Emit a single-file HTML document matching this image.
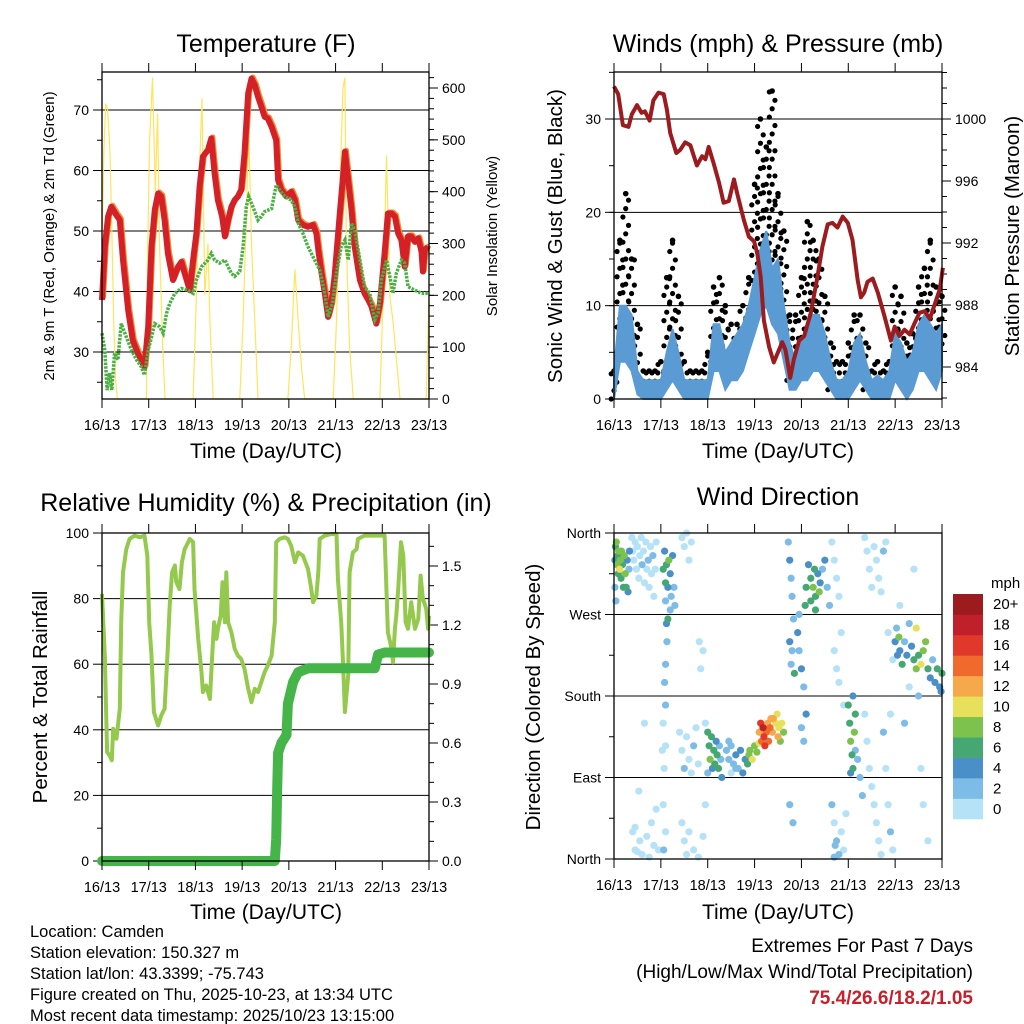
<!DOCTYPE html>
<html><head><meta charset="utf-8"><style>
body{margin:0;background:#fff;}
svg{display:block;font-family:"Liberation Sans",sans-serif;}
</style></head><body>
<svg id="c" width="1024" height="1024" viewBox="0 0 1024 1024" xmlns="http://www.w3.org/2000/svg">
<g id="texts" fill="#000">
<text x="266" y="52" font-size="25" text-anchor="middle">Temperature (F)</text>
<text x="778" y="52" font-size="25" text-anchor="middle">Winds (mph) &amp; Pressure (mb)</text>
<text x="266" y="511" font-size="25" text-anchor="middle">Relative Humidity (%) &amp; Precipitation (in)</text>
<text x="778" y="505" font-size="25" text-anchor="middle">Wind Direction</text>
<text x="266" y="458" font-size="21" text-anchor="middle">Time (Day/UTC)</text>
<text x="778" y="458" font-size="21" text-anchor="middle">Time (Day/UTC)</text>
<text x="266" y="919" font-size="21" text-anchor="middle">Time (Day/UTC)</text>
<text x="778" y="919" font-size="21" text-anchor="middle">Time (Day/UTC)</text>
<text transform="translate(54,236) rotate(-90)" font-size="15" text-anchor="middle">2m &amp; 9m T (Red, Orange) &amp; 2m Td (Green)</text>
<text transform="translate(497,236) rotate(-90)" font-size="15" text-anchor="middle">Solar Insolation (Yellow)</text>
<text transform="translate(562,236) rotate(-90)" font-size="20.5" text-anchor="middle">Sonic Wind &amp; Gust (Blue, Black)</text>
<text transform="translate(1019,236) rotate(-90)" font-size="20.5" text-anchor="middle">Station Pressure (Maroon)</text>
<text transform="translate(47,697) rotate(-90)" font-size="20.5" text-anchor="middle">Percent &amp; Total Rainfall</text>
<text transform="translate(540,697) rotate(-90)" font-size="20.5" text-anchor="middle">Direction (Colored By Speed)</text>
<g font-size="16.5">
<text x="30" y="937">Location: Camden</text>
<text x="30" y="958">Station elevation: 150.327 m</text>
<text x="30" y="979">Station lat/lon: 43.3399; -75.743</text>
<text x="30" y="1000">Figure created on Thu, 2025-10-23, at 13:34 UTC</text>
<text x="30" y="1021">Most recent data timestamp: 2025/10/23 13:15:00</text>
</g>
<text x="973" y="952" font-size="19" text-anchor="end">Extremes For Past 7 Days</text>
<text x="973" y="978" font-size="19" text-anchor="end">(High/Low/Max Wind/Total Precipitation)</text>
<text x="973" y="1004" font-size="19" font-weight="bold" fill="#c8202a" text-anchor="end">75.4/26.6/18.2/1.05</text>
</g>
</svg>
<script>
// ---------- data ----------
const dayLabels=["16/13","17/13","18/13","19/13","20/13","21/13","22/13","23/13"];
const tempDays=[0,.06,.13,.2,.31,.38,.45,.56,.66,.77,.91,.99,1.06,1.13,1.2,1.27,1.34,1.41,1.52,1.63,1.7,1.77,1.88,1.95,2.02,2.09,2.16,2.27,2.34,2.41,2.48,2.57,2.63,2.7,2.77,2.84,2.91,2.98,3.05,3.13,3.2,3.27,3.34,3.41,3.48,3.55,3.63,3.73,3.77,3.84,3.95,4.05,4.13,4.2,4.3,4.41,4.52,4.59,4.63,4.7,4.77,4.84,4.91,4.98,5.09,5.16,5.2,5.27,5.34,5.41,5.52,5.62,5.7,5.77,5.87,5.95,6.05,6.12,6.2,6.27,6.34,6.41,6.48,6.55,6.62,6.7,6.77,6.84,6.87,6.91,6.98];
const tempF=[38.6,47.4,52.4,54.0,52.6,51.8,45.2,36.9,31.9,29.7,27.5,34.2,47.4,53.5,56.2,55.7,51.8,46.3,41.9,44.1,44.9,43.0,40.2,45.2,49.6,57.3,62.3,63.4,65.3,59.5,55.1,52.4,49.1,51.8,54.0,55.1,55.7,56.8,62.8,72.8,75.2,74.1,72.2,70.6,68.9,68.6,67.2,65.0,58.4,56.8,55.7,56.5,55.1,51.8,51.0,50.7,51.0,49.6,46.9,43.0,39.7,35.8,38.0,42.5,52.9,59.0,63.1,58.4,53.5,47.4,41.9,39.7,38.6,37.5,34.7,38.0,46.3,52.9,52.9,52.4,49.6,48.5,44.1,49.1,49.1,48.2,48.8,46.6,43.3,46.9,47.4];
const dewDays=[0,.06,.11,.16,.21,.27,.34,.41,.52,.63,.74,.84,.91,.99,1.06,1.13,1.23,1.31,1.38,1.45,1.56,1.7,1.84,1.95,2.02,2.13,2.27,2.34,2.41,2.52,2.63,2.7,2.77,2.84,2.95,3.02,3.09,3.14,3.23,3.34,3.41,3.48,3.63,3.73,3.8,3.91,4.05,4.13,4.2,4.3,4.41,4.55,4.66,4.77,4.84,4.93,5.02,5.12,5.2,5.27,5.34,5.41,5.52,5.62,5.73,5.84,5.91,5.98,6.09,6.16,6.23,6.3,6.41,6.48,6.55,6.7,6.84,6.98];
const dewF=[33.1,30.3,23.7,26.5,23.7,29.8,28.7,34.7,32.5,30.3,28.7,27.6,26.2,30.3,32.5,34.7,34.2,33.1,36.4,38.0,39.7,40.5,40.2,39.7,41.9,44.1,45.2,46.3,45.2,44.7,45.2,44.1,43.0,42.5,43.3,47.4,54.0,55.7,54.0,51.8,52.4,53.2,53.7,57.6,56.8,55.7,55.1,54.0,51.3,49.6,47.4,45.2,43.6,39.7,35.8,38.0,43.0,47.4,48.5,45.2,51.3,50.2,45.2,40.8,39.7,35.3,36.4,41.9,45.2,42.5,39.7,43.0,45.2,44.7,40.8,40.2,39.7,39.7];
const solarDays=[0,.04,.08,.12,.17,.21,.25,.29,.33,.95,.98,1.02,1.08,1.14,1.19,1.23,1.3,1.35,1.41,1.95,2.02,2.09,2.14,2.2,2.27,2.31,2.38,2.95,3.02,3.09,3.14,3.2,3.27,3.34,3.98,4.05,4.13,4.2,4.27,4.34,4.95,5.02,5.09,5.16,5.2,5.23,5.3,5.38,5.95,6.02,6.09,6.16,6.23,6.3,6.38,6.94,7.0];
const solarW=[300,480,570,560,480,330,150,40,0,0,300,500,620,400,550,300,100,0,0,0,200,450,580,200,300,150,0,0,150,350,520,300,150,0,0,100,250,150,60,0,0,150,400,600,620,300,100,0,0,200,470,200,150,80,0,0,200];
const presDays=[0,.09,.19,.31,.38,.49,.59,.66,.76,.84,.95,1.06,1.13,1.2,1.33,1.41,1.52,1.63,1.77,1.88,1.95,2.02,2.13,2.24,2.34,2.45,2.56,2.63,2.77,2.88,2.99,3.06,3.13,3.2,3.31,3.41,3.59,3.66,3.76,3.84,3.95,4.06,4.2,4.34,4.45,4.56,4.66,4.77,4.88,4.99,5.09,5.2,5.27,5.34,5.41,5.52,5.63,5.77,5.91,5.99,6.09,6.2,6.31,6.41,6.52,6.63,6.74,6.84,6.95,7.02];
const presMb=[1002.1,1001.6,999.6,999.5,1000.3,1000.9,1000.4,1000.5,999.9,1001.2,1001.7,1001.6,1000.6,999.1,997.8,998.0,998.5,998.3,997.0,997.6,997.4,998.2,997.1,995.9,994.6,994.7,996.1,995.2,993.5,992.4,992.1,991.3,989.8,987.0,985.3,984.3,985.6,985.1,983.3,984.5,985.7,986.0,987.5,989.8,991.8,993.2,993.3,993.0,993.7,993.3,992.2,989.6,988.5,988.8,989.5,989.7,988.8,987.3,985.7,986.6,986.0,986.4,986.1,986.8,987.5,987.6,987.1,988.0,989.0,990.4];
const windHi=[3,10,10,9,3,2,2,2,2,5,7.5,5,2,2,2,2,2,8,8,5,6,7,8,10,13,16,18,14,15,10,6,4,6,8,9,9,7,4,2,2,3,6,7,4,2,2.5,2,3,7,6,4,5,8,9,8,7,8];
const windLo=[0,4,4,3,.5,0,0,0,0,1,2,1,0,0,0,0,0,3,3,1,2,2,3,5,7,9,10,8,7,4,1,1,2,2,3,3,2,1,0,0,0,1,2,1,0,0,0,0,2,1,0,1,3,3,2,1,3];
const gustHi=[3,17,22,15,8,3,3,3,4,13,17,11,4,3,3,3,5,12,13,10,8,8,10,13,23,30,27,33,22,18,9,9,13,19,17,15,11,6,4,4,6,9,9,6,3,4,3,4,12,11,6,7,12,14,17,12,11];
const gustLo=[0,5,6,5,3,1,1,1,1,3,5,3,1,1,1,1,1,4,5,3,2,3,4,6,10,13,14,14,10,7,2,2,3,6,6,4,3,1,1,1,1,2,3,1,1,1,1,1,3,2,1,2,4,5,5,4,5];
const rhDays=[0,.06,.11,.16,.21,.24,.31,.38,.41,.45,.52,.59,.70,.81,.91,.97,1.01,1.06,1.11,1.2,1.27,1.34,1.4,1.45,1.5,1.56,1.59,1.66,1.71,1.77,1.88,1.95,1.98,2.06,2.13,2.16,2.23,2.31,2.36,2.4,2.45,2.48,2.54,2.58,2.63,2.66,2.7,2.77,2.84,2.91,2.98,3.05,3.13,3.2,3.27,3.34,3.41,3.48,3.55,3.63,3.7,3.73,3.8,3.91,3.98,4.05,4.13,4.2,4.3,4.41,4.48,4.52,4.59,4.63,4.66,4.77,4.91,5.02,5.05,5.12,5.16,5.2,5.27,5.3,5.37,5.45,5.48,5.62,5.91,6.05,6.12,6.2,6.23,6.27,6.3,6.34,6.4,6.45,6.5,6.55,6.62,6.7,6.77,6.82,6.87,6.94,6.98,7.0];
const rhPct=[81.4,62.6,33.2,32.2,30.7,40.3,37.3,46.4,72.8,88.0,95.1,98.2,99.2,98.7,99.2,93.1,72.8,62.6,45.4,41.3,44.4,46.4,62.6,77.9,88.0,90.1,85.0,82.9,91.1,95.1,98.2,97.2,82.9,67.7,57.6,51.5,53.5,49.4,62.6,72.8,67.7,70.8,74.8,85.0,72.8,88.0,72.8,69.7,64.7,62.6,61.6,58.6,52.5,48.4,52.5,51.5,54.5,57.6,59.6,62.6,72.8,97.2,98.2,98.7,98.2,96.1,91.1,94.1,93.1,89.0,82.9,78.9,80.9,88.0,98.2,99.2,99.7,99.7,86.0,72.8,60.6,45.4,56.5,88.0,94.1,95.1,98.2,99.2,99.2,99.2,69.7,64.7,60.6,70.8,74.8,82.9,97.2,93.1,72.8,70.8,78.9,70.8,73.8,87.0,79.9,76.9,70.8,74.8];
const precipDays=[0,3.70,3.73,3.75,3.77,3.84,3.95,3.98,4.09,4.2,4.41,5.84,5.91,6.05,7.0];
const precipIn=[0,0,0.11,0.37,0.55,0.60,0.64,0.80,0.91,0.96,0.98,0.98,1.05,1.06,1.06];
const dirDays=[0.02,0.03,0.05,0.06,0.08,0.09,0.1,0.12,0.13,0.15,0.16,0.18,0.2,0.22,0.24,0.26,0.28,0.3,0.32,0.02,0.04,0.33,
0.38,0.4,0.42,0.45,0.48,0.5,0.53,0.55,0.58,0.6,0.63,0.65,0.68,0.7,0.73,0.75,0.78,0.8,0.83,0.85,0.88,0.9,0.4,0.45,0.55,0.6,0.7,0.75,0.8,0.85,0.5,0.95,0.65,0.53,0.45,0.9,
1.05,1.08,1.1,1.12,1.15,1.17,1.2,1.22,1.25,1.28,1.3,1.1,1.12,1.13,1.1,1.08,1.1,1.05,1.03,1.1,1.07,1.05,1.1,1.06,1.15,1.2,
1.45,1.5,1.55,1.6,1.65,1.4,1.45,1.5,1.55,1.6,1.65,1.7,1.75,1.8,1.45,1.5,1.55,1.6,1.7,1.8,1.9,1.85,1.9,1.82,1.95,1.95,
2.0,2.03,2.05,2.08,2.1,2.13,2.15,2.18,2.2,2.23,2.25,2.0,2.28,2.3,
2.4,2.45,2.5,2.55,2.6,2.65,2.7,2.75,2.8,2.45,2.6,2.5,
2.85,2.88,2.9,2.95,3.0,3.05,
3.1,3.13,3.15,3.18,3.2,3.22,3.25,3.28,3.3,3.33,3.35,3.38,3.1,
3.4,3.45,3.48,3.5,3.52,3.55,3.58,3.62,
3.72,3.75,3.78,3.8,3.83,3.75,3.8,3.85,3.78,3.75,3.82,
3.92,3.95,4.0,4.05,4.1,4.0,4.05,3.95,4.1,4.08,
4.15,4.2,4.25,4.28,4.3,4.35,4.38,4.4,4.45,4.5,4.55,4.6,4.2,4.3,
4.65,4.7,4.75,4.8,4.85,4.7,4.75,4.8,4.9,4.65,4.7,4.75,4.8,4.85,4.9,4.95,4.7,4.72,
5.0,5.03,5.05,5.08,5.1,5.13,5.15,5.1,5.05,5.15,5.2,5.25,5.3,
5.35,5.4,5.45,5.5,5.55,5.6,5.65,5.7,5.75,5.8,5.35,5.4,5.45,5.5,5.55,5.6,5.65,5.7,5.75,5.8,5.85,5.9,5.95,5.9,5.95,5.85,
6.0,6.03,6.05,6.08,6.1,6.15,6.2,6.25,6.3,6.35,6.4,6.45,6.5,6.55,6.6,6.65,6.7,6.75,6.8,6.85,6.9,6.95,7.0,6.98,6.5,6.3,6.1,6.4,6.55,6.6,6.7,6.2,6.45];
const dirDeg=[330,345,350,325,335,315,340,320,330,310,340,325,300,335,315,300,330,295,320,300,285,340,
355,340,330,350,320,345,310,335,355,325,340,305,350,320,330,300,345,315,335,290,320,350,30,10,20,5,25,2,40,15,8,10,150,75,35,55,
320,340,305,325,300,330,315,290,335,300,280,285,260,240,215,195,170,150,120,125,100,60,30,10,265,275,
355,345,360,330,350,140,120,100,135,110,95,125,145,105,40,20,5,30,10,2,25,210,230,240,150,60,
140,125,110,135,100,120,105,130,115,100,125,95,110,90,
120,110,125,105,115,100,120,95,110,130,100,95,
105,115,120,110,125,118,
140,150,130,145,135,125,140,150,130,145,155,140,128,
155,150,160,135,145,130,150,140,
350,330,310,290,265,240,230,205,215,60,40,
250,230,210,190,160,145,130,270,300,280,
325,310,300,320,290,315,295,305,320,330,300,280,285,275,
350,330,310,290,250,230,210,195,170,60,40,20,5,30,10,50,2,15,
170,150,130,115,100,140,160,180,95,120,110,90,70,
355,340,320,300,345,330,310,295,340,350,160,130,100,80,60,40,20,5,140,100,60,30,10,160,220,250,
240,255,225,245,230,215,240,225,260,235,220,210,225,215,230,240,210,200,220,195,210,190,205,185,180,190,280,320,100,60,20,150,255];
const dirSpeed=[5,7,8,9,6,7,9,10,8,7,8,6,7,9,8,6,5,4,3,3,3,4,
1,0,1,0,1,1,0,0,1,2,1,0,0,1,2,0,1,1,3,0,0,1,0,0,1,0,0,0,1,0,0,1,1,0,1,0,
6,5,7,6,4,8,5,3,4,3,2,3,4,3,3,3,2,1,1,0,0,1,1,2,6,2,
0,1,0,1,0,0,1,2,1,0,1,2,1,1,0,1,0,0,1,0,0,0,1,0,1,0,
6,7,8,6,5,7,6,4,6,7,3,2,3,4,
2,3,3,2,4,3,4,4,5,2,2,1,
6,8,9,10,9,8,
12,16,14,18,17,16,14,13,15,14,13,12,11,
12,10,11,12,10,9,11,8,
3,4,3,2,2,4,3,6,2,3,2,
4,3,5,3,4,2,3,2,6,6,
4,6,8,7,6,5,8,4,3,4,2,3,7,6,
0,1,1,0,1,0,1,0,1,2,1,2,3,1,0,1,3,3,
6,7,8,7,6,8,6,5,4,3,2,2,3,
0,1,0,0,1,0,1,0,3,0,1,0,1,0,1,0,1,0,2,1,0,2,1,0,0,1,
4,3,5,8,4,6,3,4,2,4,7,8,6,10,9,8,6,4,3,5,6,4,7,4,2,1,1,1,1,0,1,2,10];
const speedColors=["#b6e2f7","#7ebce8","#4a8fc8","#45a873","#7dc24d","#e6e05a","#f6a84a","#ef6a2c","#e0382b","#c0202a","#9b1b1e"];
const speedLabels=["0","2","4","6","8","10","12","14","16","18","20+"];

// ---------- helpers ----------
const NS="http://www.w3.org/2000/svg";
const svg=document.getElementById('c');
function mk(tag,attrs,parent){const e=document.createElementNS(NS,tag);for(const k in attrs)e.setAttribute(k,attrs[k]);(parent||svg).appendChild(e);return e;}
function panel(x0,x1,y0,y1){return {x0,x1,y0,y1,sx:d=>x0+d/7*(x1-x0)};}
function lin(v0,v1,p0,p1){return v=>p0+(v-v0)/(v1-v0)*(p1-p0);}
function pathD(xs,ys,sx,sy){return xs.map((d,i)=>(i?'L':'M')+sx(d).toFixed(1)+','+sy(ys[i]).toFixed(1)).join(' ');}

function frame(P,name){
  const f=mk('rect',{x:P.x0,y:P.y0,width:P.x1-P.x0,height:P.y1-P.y0,fill:'none',stroke:'#000','stroke-width':1.3});
  
  
  for(let i=0;i<8;i++){
    const x=P.sx(i);
    const t=mk('line',{x1:x,x2:x,y1:P.y1,y2:P.y1+9,stroke:'#000'});
    
    
    const t2=mk('line',{x1:x,x2:x,y1:P.y0,y2:P.y0-9,stroke:'#000'});
    
    
    const l=mk('text',{x:x,y:P.y1+31,'font-size':14.5,'text-anchor':'middle'});
    l.textContent=dayLabels[i];
    
    
  }
}
function yAxis(P,sy,vals,labels,side,name,grid,minorVals){
  vals.forEach((v,i)=>{
    const y=sy(v);
    if(grid){const g=mk('line',{x1:P.x0,x2:P.x1,y1:y,y2:y,stroke:'#000','stroke-width':1});
      
      }
    const xa=side==='l'?P.x0:P.x1, dx=side==='l'?-9:9;
    const t=mk('line',{x1:xa,x2:xa+dx,y1:y,y2:y,stroke:'#000'});
    
    
    const l=mk('text',{x:side==='l'?xa-13:xa+13,y:y+5,'font-size':14,'text-anchor':side==='l'?'end':'start'});
    l.textContent=labels[i];
    
    
  });
  (minorVals||[]).forEach(v=>{
    const y=sy(v);const xa=side==='l'?P.x0:P.x1, dx=side==='l'?-5:5;
    const t=mk('line',{x1:xa,x2:xa+dx,y1:y,y2:y,stroke:'#000'});
    
    
  });
}
function range(a,b,s){const r=[];for(let v=a;v<=b+1e-9;v+=s)r.push(+v.toFixed(3));return r;}

// ---------- Panel 1: temperature ----------
const P1=panel(102,429,72,399);
const t1=lin(30,70,352,110), s1=lin(0,600,399,88);
yAxis(P1,t1,[30,40,50,60,70],["30","40","50","60","70"],'l','temp-y',true,range(25,75,5));
yAxis(P1,s1,[0,100,200,300,400,500,600],["0","100","200","300","400","500","600"],'r','solar-y',false,range(0,620,20));
let e=mk('path',{d:pathD(solarDays,solarW,P1.sx,s1),fill:'none',stroke:'#ffe45c','stroke-width':1.2});


e=mk('path',{d:pathD(tempDays,tempF,P1.sx,t1),fill:'none',stroke:'#f58a35','stroke-width':5,'stroke-linejoin':'round',transform:'translate(1.5,-1.5)'});


e=mk('path',{d:pathD(tempDays,tempF,P1.sx,t1),fill:'none',stroke:'#d42027','stroke-width':6,'stroke-linejoin':'round'});


e=mk('path',{d:pathD(dewDays,dewF,P1.sx,t1),fill:'none',stroke:'#4bb043','stroke-width':3.5,'stroke-dasharray':'2.5 1.2'});


frame(P1,'temp');

// ---------- Panel 2: wind & pressure ----------
const P2=panel(614,942,72,399);
const w2=lin(0,30,399,119), p2=lin(984,1000,367,119);
yAxis(P2,w2,[0,10,20,30],["0","10","20","30"],'l','wind-y',true,range(5,35,5));
yAxis(P2,p2,[984,988,992,996,1000],["984","988","992","996","1000"],'r','pressure-y',false,range(982,1003,1));
const wDays=windHi.map((v,i)=>i*0.125);
const gg=mk('g',{fill:'#000'});


gustHi.forEach((h,i)=>{
  let k=0;
  for(let v=gustLo[i];v<=h+0.01;v+=0.9){
    const off=[-2.8,0,2.8][k%3];
    k++;
    const c=mk('circle',{cx:P2.sx(wDays[i])+off,cy:w2(v),r:2.6},gg);
    
    
  }
  const c=mk('circle',{cx:P2.sx(wDays[i]),cy:w2(h),r:2.8},gg);
  
  
});
const bandD=wDays.map((d,i)=>(i?'L':'M')+P2.sx(d).toFixed(1)+','+w2(windHi[i]).toFixed(1)).join(' ')+' '+wDays.slice().reverse().map((d,j)=>{const i=wDays.length-1-j;return 'L'+P2.sx(d).toFixed(1)+','+w2(windLo[i]).toFixed(1);}).join(' ')+'Z';
e=mk('path',{d:bandD,fill:'#5a9bd4',stroke:'#5a9bd4','stroke-width':2});


e=mk('path',{d:pathD(presDays,presMb,P2.sx,p2),fill:'none',stroke:'#9b1b1e','stroke-width':4,'stroke-linejoin':'round'});


frame(P2,'wind');

// ---------- Panel 3: RH & precip ----------
const P3=panel(102,429,533,861);
const r3=lin(0,100,861,533), q3=lin(0,0.3,861,802);
yAxis(P3,r3,[0,20,40,60,80,100],["0","20","40","60","80","100"],'l','rh-y',true,range(10,90,20));
yAxis(P3,q3,[0,0.3,0.6,0.9,1.2,1.5],["0.0","0.3","0.6","0.9","1.2","1.5"],'r','precip-y',false,range(0.1,1.6,0.1));
e=mk('path',{d:pathD(rhDays,rhPct,P3.sx,r3),fill:'none',stroke:'#94c94e','stroke-width':4,'stroke-linejoin':'round'});


e=mk('path',{d:pathD(precipDays,precipIn,P3.sx,q3),fill:'none',stroke:'#45b549','stroke-width':10,'stroke-linejoin':'round','stroke-linecap':'round'});


frame(P3,'rh');

// ---------- Panel 4: wind direction ----------
const P4=panel(614,942,533,859);
const d4=lin(0,360,859,533);
yAxis(P4,d4,[0,90,180,270,360],["North","East","South","West","North"],'l','dir-y',true,range(45,315,90));
const dg=mk('g',{});


const order=dirDays.map((d,i)=>i).sort((a,b)=>dirSpeed[a]-dirSpeed[b]);
order.forEach(i=>{
  const ci=Math.min(10,Math.floor(dirSpeed[i]/2));
  const c=mk('circle',{cx:P4.sx(dirDays[i]),cy:d4(dirDeg[i]),r:3.6,fill:speedColors[ci]},dg);
  
  
});
frame(P4,'dir');
// colorbar
const cb=mk('g',{});


const bh=225/11;
speedColors.forEach((col,i)=>{
  const y=819-(i+1)*bh;
  const r=mk('rect',{x:953,y:y,width:30,height:bh+0.3,fill:col},cb);
  
  
  const t=mk('text',{x:993,y:y+bh/2+5,'font-size':15},cb);
  t.textContent=speedLabels[i];
  
  
});
const mu=mk('text',{x:991,y:588,'font-size':15},cb);
mu.textContent='mph';


</script>
</body></html>
